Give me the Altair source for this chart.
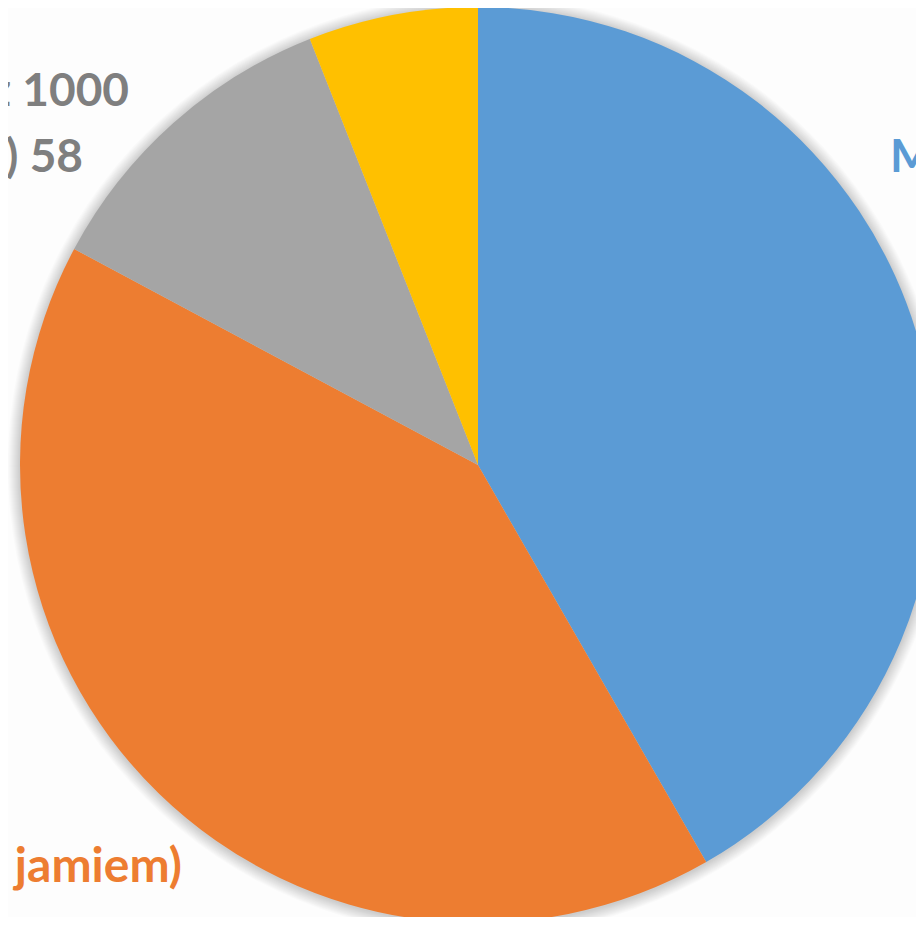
import altair as alt
import pandas as pd

# Data
categories = ["Mikroprzedsiębiorstwa", "Małe przedsiębiorstwa", "Duże przedsiębiorstwa", "Średnie przedsiębiorstwa"]
values = [216, 213, 58, 31]
colors = ["#5B9BD5", "#ED7D31", "#A5A5A5", "#FFC000"]
order_idx = [0, 1, 2, 3]

# Label texts (the reference is cropped, only the ends / starts are visible)
blue_label = "Mikroprzedsiębiorstwa 216"
orange_label = "Małe przedsiębiorstwa 213 (z\u2003jamiem)"
gray_line1 = "Duże przedsiębiorstwa z 1000"
gray_line2 = "(i więcej) 58"

df = pd.DataFrame({"kategoria": categories, "wartosc": values, "kolejnosc": order_idx})
one = pd.DataFrame({"k": [0]})

W, H = 908, 909
CX, CY, R = 470, 457, 458

# soft shadow around the pie
shadows = []
for i in range(1, 13):
    shadows.append(
        alt.Chart(one).mark_arc(radius=R + i, theta=0, theta2=6.2832, color="#000000", opacity=0.014)
        .encode(x=alt.value(CX), y=alt.value(CY + 1))
    )

pie = alt.Chart(df).mark_arc(radius=R).encode(
    theta=alt.Theta("wartosc:Q", stack=True),
    order=alt.Order("kolejnosc:Q"),
    color=alt.Color("kategoria:N", scale=alt.Scale(domain=categories, range=colors), legend=None),
    x=alt.value(CX),
    y=alt.value(CY),
)

font = "Lato"
fs = 46

t_blue = alt.Chart(one).mark_text(font=font, fontSize=fs, fontWeight="bold", align="left",
                                  baseline="alphabetic", color="#5B9BD5").encode(
    x=alt.value(882), y=alt.value(164), text=alt.value(blue_label))
t_orange = alt.Chart(one).mark_text(font=font, fontSize=48, fontWeight="bold", align="right",
                                    baseline="alphabetic", color="#ED7D31").encode(
    x=alt.value(174), y=alt.value(874), text=alt.value(orange_label))
t_gray1 = alt.Chart(one).mark_text(font=font, fontSize=fs, fontWeight="bold", align="right",
                                   baseline="alphabetic", color="#7F7F7F").encode(
    x=alt.value(121), y=alt.value(98), text=alt.value(gray_line1))
t_gray2 = alt.Chart(one).mark_text(font=font, fontSize=fs, fontWeight="bold", align="right",
                                   baseline="alphabetic", color="#7F7F7F").encode(
    x=alt.value(75), y=alt.value(164), text=alt.value(gray_line2))

chart = alt.layer(*shadows, pie, t_blue, t_orange, t_gray1, t_gray2).properties(
    width=W, height=H, padding=0, autosize=alt.AutoSizeParams(type="none"),
    background="#FDFDFD",
).configure_view(stroke=None)

chart.save("out.html", embed_options={"renderer": "svg", "actions": False})
